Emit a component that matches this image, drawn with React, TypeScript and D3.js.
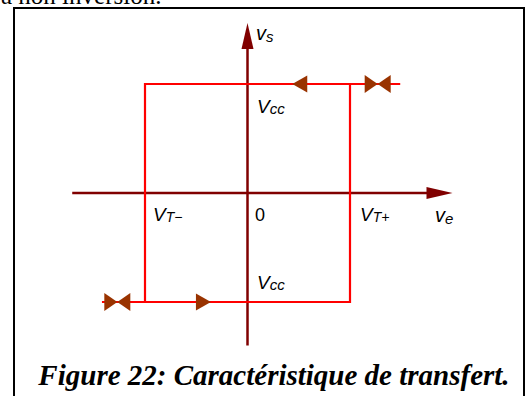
import React from "react";
import * as d3 from "d3";

// Thresholds and saturation levels (normalised units)
const thresholds = [-1, 1]; // V_T-, V_T+
const levels = [-1, 1]; // -Vcc, +Vcc
const axisX = [-1.71, 2.0];
const axisY = [-1.4, 1.56];
const topBranchX = [-1, 1.49];
const bottomBranchX = [-1.42, 1];
const directionArrows = [
  { x: 0.51, y: 1, dir: -1 },
  { x: -0.43, y: -1, dir: 1 },
];
const bowties = [
  { x: 1.27, y: 1 },
  { x: -1.27, y: -1 },
];
const axisLabels = ["V", "T−", "0", "V", "T+"];

const W = 525;
const H = 396;

export default function App() {
  const x = d3.scaleLinear().domain([-1, 1]).range([145, 350]);
  const y = d3.scaleLinear().domain([-1, 1]).range([302, 84]);
  const line = d3.line<[number, number]>().x((d) => x(d[0])).y((d) => y(d[1]));

  const loop: [number, number][] = [
    [topBranchX[1], levels[1]],
    [thresholds[0], levels[1]],
    [thresholds[0], levels[0]],
  ];
  const loop2: [number, number][] = [
    [bottomBranchX[0], levels[0]],
    [thresholds[1], levels[0]],
    [thresholds[1], levels[1]],
  ];

  const axisColor = "#800000";
  const red = "#ff0000";
  const brown = "#993300";
  const labelFont = "'Liberation Sans', Arial, sans-serif";

  const tri = (cx: number, cy: number, dir: number, len: number, hh: number) => {
    const tip = cx + (dir * len) / 2;
    const base = cx - (dir * len) / 2;
    return `M${tip},${cy}L${base},${cy - hh}L${base},${cy + hh}Z`;
  };

  const x0 = x(0);
  const y0 = y(0);

  return (
    <svg
      width={W}
      height={H}
      style={{ position: "absolute", left: 0, top: 0, background: "#fff" }}
    >
      <rect x={0} y={0} width={W} height={H} fill="#fff" />
      <text
        x={1}
        y={4}
        fontFamily="'Liberation Serif', 'Times New Roman', serif"
        fontSize={25}
        fill="#000"
      >
        a non inversion.
      </text>
      <rect x={14} y={8} width={510} height={420} fill="none" stroke="#000" strokeWidth={2} />

      {/* axes */}
      <line x1={x(axisX[0])} x2={x(axisX[1]) - 20} y1={y0} y2={y0} stroke={axisColor} strokeWidth={2.5} />
      <path
        d={`M${x(axisX[1])},${y0}L${x(axisX[1]) - 26},${y0 - 6}L${x(axisX[1]) - 26},${y0 + 6}Z`}
        fill={axisColor}
      />
      <line x1={x0} x2={x0} y1={y(axisY[0])} y2={y(axisY[1]) + 20} stroke={axisColor} strokeWidth={2.5} />
      <path
        d={`M${x0},${y(axisY[1])}L${x0 - 6},${y(axisY[1]) + 26}L${x0 + 6},${y(axisY[1]) + 26}Z`}
        fill={axisColor}
      />

      {/* hysteresis loop */}
      <path d={line(loop) ?? ""} fill="none" stroke={red} strokeWidth={2.2} />
      <path d={line(loop2) ?? ""} fill="none" stroke={red} strokeWidth={2.2} />

      {directionArrows.map((a, i) => (
        <path key={i} d={tri(x(a.x), y(a.y), a.dir, 15, 8.5)} fill={brown} />
      ))}
      {bowties.map((b, i) => (
        <g key={i}>
          <path d={tri(x(b.x) - 6.5, y(b.y), 1, 13, 9)} fill={brown} />
          <path d={tri(x(b.x) + 6.5, y(b.y), -1, 13, 9)} fill={brown} />
        </g>
      ))}

      {/* labels */}
      <g fontFamily={labelFont} fontStyle="italic" fill="#000">
        <text x={256} y={40} fontSize={20}>
          v<tspan fontSize={15} dy={2}>s</tspan>
        </text>
        <text x={257} y={113} fontSize={19}>
          V<tspan fontSize={15} dy={1}>cc</tspan>
        </text>
        <text x={257} y={289} fontSize={19}>
          V<tspan fontSize={15} dy={1}>cc</tspan>
        </text>
        <text x={153} y={221} fontSize={19}>
          {axisLabels[0]}
          <tspan fontSize={14} dy={1}>{axisLabels[1]}</tspan>
        </text>
        <text x={255} y={221} fontSize={18} fontStyle="normal">
          {axisLabels[2]}
        </text>
        <text x={360} y={221} fontSize={19}>
          {axisLabels[3]}
          <tspan fontSize={14} dy={1}>{axisLabels[4]}</tspan>
        </text>
        <text x={435} y={222} fontSize={20}>
          v<tspan fontSize={15} dy={2}>e</tspan>
        </text>
      </g>

      <text
        x={274}
        y={385}
        textAnchor="middle"
        fontFamily="'Liberation Serif', 'Times New Roman', serif"
        fontWeight="bold"
        fontStyle="italic"
        fontSize={29}
        fill="#000"
      >
        Figure 22: Caractéristique de transfert.
      </text>
    </svg>
  );
}
